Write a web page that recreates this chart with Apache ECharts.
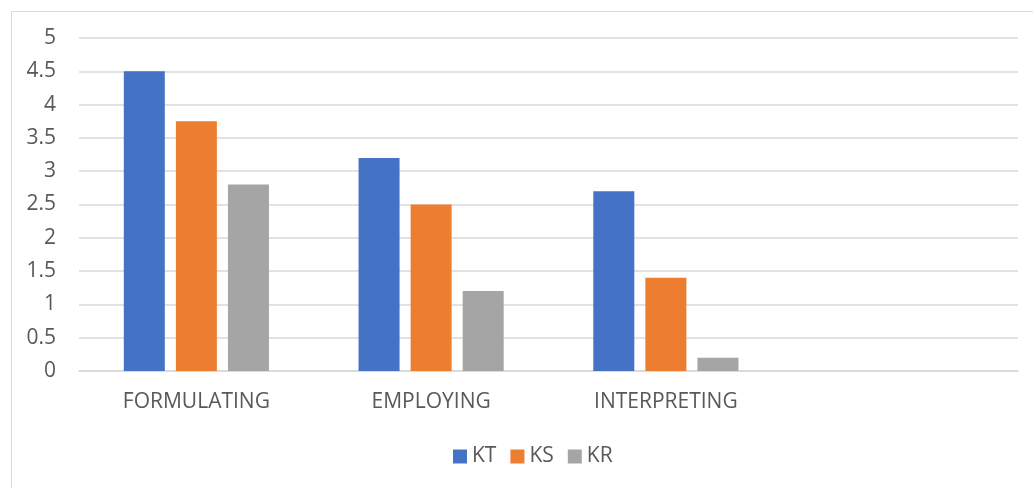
<!DOCTYPE html>
<html>
<head>
<meta charset="utf-8">
<script src="https://cdn.jsdelivr.net/npm/echarts@6/dist/echarts.min.js"></script>
<style>
html,body{margin:0;padding:0;background:#fff;}
#c{width:1033px;height:488px;}
</style>
</head>
<body>
<div id="c"></div>
<script>
const categories = ['FORMULATING', 'EMPLOYING', 'INTERPRETING', ''];
const seriesNames = ['KT', 'KS', 'KR'];
const kt = [4.5, 3.2, 2.7, null];
const ks = [3.75, 2.5, 1.4, null];
const kr = [2.8, 1.2, 0.2, null];
const colors = ['#4472C4', '#ED7D31', '#A5A5A5'];
const font = 'Open Sans, Liberation Sans, sans-serif';

const chart = echarts.init(document.getElementById('c'), null, {renderer: 'canvas'});
const values = [kt, ks, kr];
chart.setOption({
  animation: false,
  backgroundColor: '#fff',
  graphic: [{
    type: 'rect', left: 9, top: 9, z: -10,
    shape: {x: 0, y: 0, width: 1100, height: 600},
    style: {fill: 'none', stroke: '#D9D9D9', lineWidth: 1}
  }],
  grid: {left: 79, right: 15, top: 38, bottom: 117},
  legend: {
    bottom: 21, left: 453, padding: 0,
    itemWidth: 14, itemHeight: 14, itemGap: 14,
    icon: 'rect',
    textStyle: {color: '#595959', fontSize: 21, fontFamily: font, padding: [0, 0, 0, 0]},
    data: seriesNames
  },
  xAxis: {
    type: 'category', data: categories,
    axisLine: {lineStyle: {color: '#D9D9D9', width: 1.5}},
    axisTick: {show: false},
    axisLabel: {color: '#595959', fontSize: 21, fontFamily: font, margin: 21}
  },
  yAxis: {
    type: 'value', min: 0, max: 5, interval: 0.5,
    axisLine: {show: false}, axisTick: {show: false},
    splitLine: {lineStyle: {color: '#D9D9D9', width: 1.5}},
    axisLabel: {color: '#595959', fontSize: 21, fontFamily: font, margin: 23}
  },
  series: seriesNames.map((n, i) => ({
    name: n, type: 'bar', data: values[i],
    barWidth: 41, barGap: '27%',
    itemStyle: {color: colors[i]}
  }))
});
</script>
</body>
</html>
